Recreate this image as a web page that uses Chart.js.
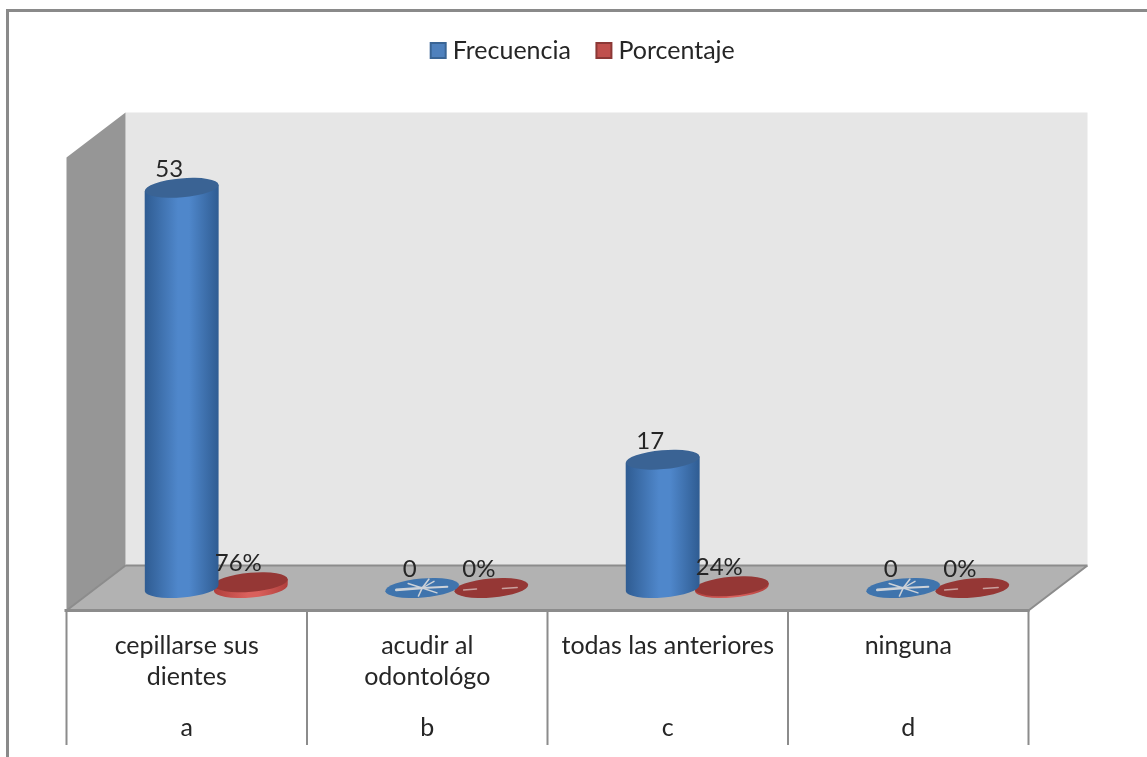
<!DOCTYPE html>
<html lang="es">
<head>
<meta charset="utf-8">
<title>Frecuencia y porcentaje</title>
<script src="https://cdn.jsdelivr.net/npm/chart.js@4/dist/chart.umd.min.js"></script>
<style>
  html, body { margin: 0; padding: 0; background: #fff; }
  #wrap { position: relative; width: 1147px; height: 757px; overflow: hidden; }
  #frame { position: absolute; left: 6px; top: 9px; width: 1200px; height: 800px; border: 3px solid #8a8a8a; box-sizing: border-box; }
  canvas { position: absolute; left: 0; top: 0; }
</style>
</head>
<body>
<div id="wrap">
  <div id="frame"></div>
  <canvas id="chart" width="1147" height="757"></canvas>
</div>
<script>
const categories = [
  ['cepillarse sus', 'dientes'],
  ['acudir al', 'odontológo'],
  'todas las anteriores',
  'ninguna'
];
const groups = ['a', 'b', 'c', 'd'];
const frecuencia = [53, 0, 17, 0];
const porcentaje = [0.76, 0, 0.24, 0];
const axisMax = 60;

const FONT = 'Lato, "Open Sans", sans-serif';
const TEXT = '#262626';
const DEPTH_X = 29.5;
const DEPTH_Y = 22.5;
const RX_RATIO = 0.5;
const RY = 9.5;
const TILT = -5 * Math.PI / 180;

const palette = {
  blue: { fill: '#4f81bd', edge: '#3a6595', top: '#3a6394', flat: '#3f74ad', dark: '#2f5c92', light: '#4f87cb', streak: '#cdd2d8' },
  red:  { fill: '#c0504d', edge: '#8c3836', top: '#953735', flat: '#953735', dark: '#b03f3c', light: '#d9605c', streak: '#c9a09e' }
};

function ellipse(ctx, x, y, rx, ry) {
  ctx.beginPath();
  ctx.ellipse(x, y, rx, ry, TILT, 0, Math.PI * 2);
}

// Light radial scratches seen on the flat discs of zero-valued bars.
function drawStreaks(ctx, x, y, rx, colours, star) {
  ctx.save();
  ctx.strokeStyle = colours.streak;
  ctx.lineCap = 'round';
  if (star) {
    const rays = [[-0.7, 0.12, 2.6], [0.68, -0.08, 2], [0.18, -0.55, 1.6], [-0.1, 0.5, 1.6], [0.4, 0.3, 1.4], [-0.38, -0.28, 1.4], [0.32, -0.42, 1.4]];
    rays.forEach(([dx, dy, w]) => {
      ctx.lineWidth = w;
      ctx.beginPath();
      ctx.moveTo(x, y);
      ctx.lineTo(x + dx * rx, y + dy * 16);
      ctx.stroke();
    });
  } else {
    ctx.lineWidth = 1.4;
    ctx.beginPath();
    ctx.moveTo(x - 0.75 * rx, y + 2);
    ctx.lineTo(x - 0.4 * rx, y + 1);
    ctx.moveTo(x + 0.3 * rx, y + 0.5);
    ctx.lineTo(x + 0.7 * rx, y - 0.5);
    ctx.stroke();
  }
  ctx.restore();
}

// Each bar element is painted as a cylinder from its own scale geometry.
function drawCylinder(ctx, bar, colours, star) {
  const { x, y, base, width } = bar.getProps(['x', 'y', 'base', 'width']);
  const rx = width * RX_RATIO;
  const h = base - y;
  if (h < 0.5) {
    ctx.fillStyle = colours.flat;
    ellipse(ctx, x, base, rx, RY);
    ctx.fill();
    drawStreaks(ctx, x, base, rx, colours, star);
    return;
  }
  const lift = rx * Math.sin(TILT);
  const grad = ctx.createLinearGradient(x - rx, 0, x + rx, 0);
  grad.addColorStop(0, colours.dark);
  grad.addColorStop(0.45, colours.light);
  grad.addColorStop(0.6, colours.light);
  grad.addColorStop(1, colours.dark);
  ctx.fillStyle = grad;
  ctx.beginPath();
  ctx.ellipse(x, base, rx, RY, TILT, Math.PI, 0, true);
  ctx.lineTo(x + rx, y + lift);
  ctx.lineTo(x - rx, y - lift);
  ctx.closePath();
  ctx.fill();
  ctx.fillStyle = colours.top;
  ellipse(ctx, x, y, rx, RY);
  ctx.fill();
}

const scene3d = {
  id: 'scene3d',
  afterLayout(chart) {
    // The legend sits high above the plot, a little right of its centre.
    const legend = chart.legend;
    const h = legend.height;
    legend.top = 7;
    legend.bottom = 7 + h;
    legend.left += 8.5;
    legend.right += 8.5;
  },
  beforeDatasetsDraw(chart) {
    const { ctx } = chart;
    const xs = chart.scales.x, ys = chart.scales.y;
    const top = ys.getPixelForValue(axisMax), bottom = ys.getPixelForValue(0);
    const fl = xs.left - DEPTH_X, fr = xs.right - DEPTH_X;
    const bl = xs.left + DEPTH_X, br = xs.right + DEPTH_X;
    const frontTop = top + DEPTH_Y, frontBottom = bottom + DEPTH_Y;
    const backTop = top - DEPTH_Y, backBottom = bottom - DEPTH_Y;
    const poly = (pts, fill) => {
      ctx.beginPath();
      pts.forEach(([px, py], i) => (i ? ctx.lineTo(px, py) : ctx.moveTo(px, py)));
      ctx.closePath();
      ctx.fillStyle = fill;
      ctx.fill();
    };
    ctx.save();
    poly([[bl, backTop], [br, backTop], [br, backBottom], [bl, backBottom]], '#e6e6e6');
    poly([[fl, frontTop], [bl, backTop], [bl, backBottom], [fl, frontBottom]], '#969696');
    poly([[fl, frontBottom], [bl, backBottom], [br, backBottom], [fr, frontBottom]], '#b2b2b2');

    ctx.strokeStyle = '#8c8c8c';
    ctx.lineWidth = 2;
    ctx.beginPath();
    ctx.moveTo(bl, backBottom); ctx.lineTo(br, backBottom);
    ctx.moveTo(fl, frontBottom); ctx.lineTo(bl, backBottom);
    ctx.moveTo(br, backBottom); ctx.lineTo(fr, frontBottom);
    ctx.stroke();
    ctx.lineWidth = 3;
    ctx.beginPath();
    ctx.moveTo(fl - 2, frontBottom); ctx.lineTo(fr + 1, frontBottom);
    ctx.stroke();

    // Dividers of the category table under the floor.
    const cell = (fr - fl) / categories.length;
    ctx.lineWidth = 2;
    ctx.beginPath();
    for (let i = 0; i <= categories.length; i++) {
      const px = fl + cell * i;
      ctx.moveTo(px, frontBottom);
      ctx.lineTo(px, 745);
    }
    ctx.stroke();
    ctx.restore();
  },
  beforeDatasetDraw(chart, args) {
    const colours = args.index === 0 ? palette.blue : palette.red;
    args.meta.data.forEach(bar => drawCylinder(chart.ctx, bar, colours, args.index === 0));
    return false;
  },
  afterDatasetsDraw(chart) {
    const { ctx } = chart;
    ctx.save();
    ctx.font = '24px ' + FONT;
    ctx.fillStyle = TEXT;
    ctx.textAlign = 'center';
    ctx.textBaseline = 'middle';
    chart.data.datasets.forEach((ds, d) => {
      chart.getDatasetMeta(d).data.forEach((bar, i) => {
        const v = ds.data[i];
        const text = d === 0 ? String(v) : Math.round(v * 100) + '%';
        ctx.fillText(text, bar.x - 12.5, bar.y - 18.5);
      });
    });
    ctx.restore();
  }
};

const chart = new Chart(document.getElementById('chart'), {
  type: 'bar',
  data: {
    labels: categories,
    datasets: [
      { label: 'Frecuencia', data: frecuencia, backgroundColor: palette.blue.fill, borderColor: palette.blue.edge, borderWidth: 2, pointStyle: 'rect' },
      { label: 'Porcentaje', data: porcentaje, backgroundColor: palette.red.fill, borderColor: palette.red.edge, borderWidth: 2, pointStyle: 'rect' }
    ]
  },
  options: {
    responsive: false,
    animation: false,
    events: [],
    categoryPercentage: 0.575,
    barPercentage: 1.07,
    layout: { padding: { left: 96, right: 89, top: 60, bottom: 14 } },
    scales: {
      x: {
        offset: true,
        afterFit(scale) { scale.height = 104; },
        grid: { display: false, drawTicks: false },
        border: { display: false },
        ticks: {
          autoSkip: false, maxRotation: 0, minRotation: 0,
          labelOffset: -29.5, padding: 42, color: TEXT,
          font: { family: FONT, size: 25, lineHeight: 31 / 25 }
        }
      },
      letters: {
        type: 'category',
        labels: groups,
        position: 'bottom',
        offset: true,
        afterFit(scale) { scale.height = 51; },
        grid: { display: false, drawTicks: false },
        border: { display: false },
        ticks: {
          autoSkip: false, maxRotation: 0, minRotation: 0,
          labelOffset: -29.5, padding: 20, color: TEXT,
          font: { family: FONT, size: 25, lineHeight: 31 / 25 }
        }
      },
      y: { display: false, min: 0, max: axisMax, beginAtZero: true }
    },
    plugins: {
      tooltip: { enabled: false },
      legend: {
        position: 'top',
        labels: {
          usePointStyle: true, boxWidth: 4, boxHeight: 15, padding: 31, color: TEXT,
          font: { family: FONT, size: 25 }
        }
      }
    }
  },
  plugins: [scene3d]
});

// Reserve exactly the space needed so the plot starts where the walls require.
chart.options.layout.padding.top = 135 - chart.legend.height;
chart.update('none');
</script>
</body>
</html>
